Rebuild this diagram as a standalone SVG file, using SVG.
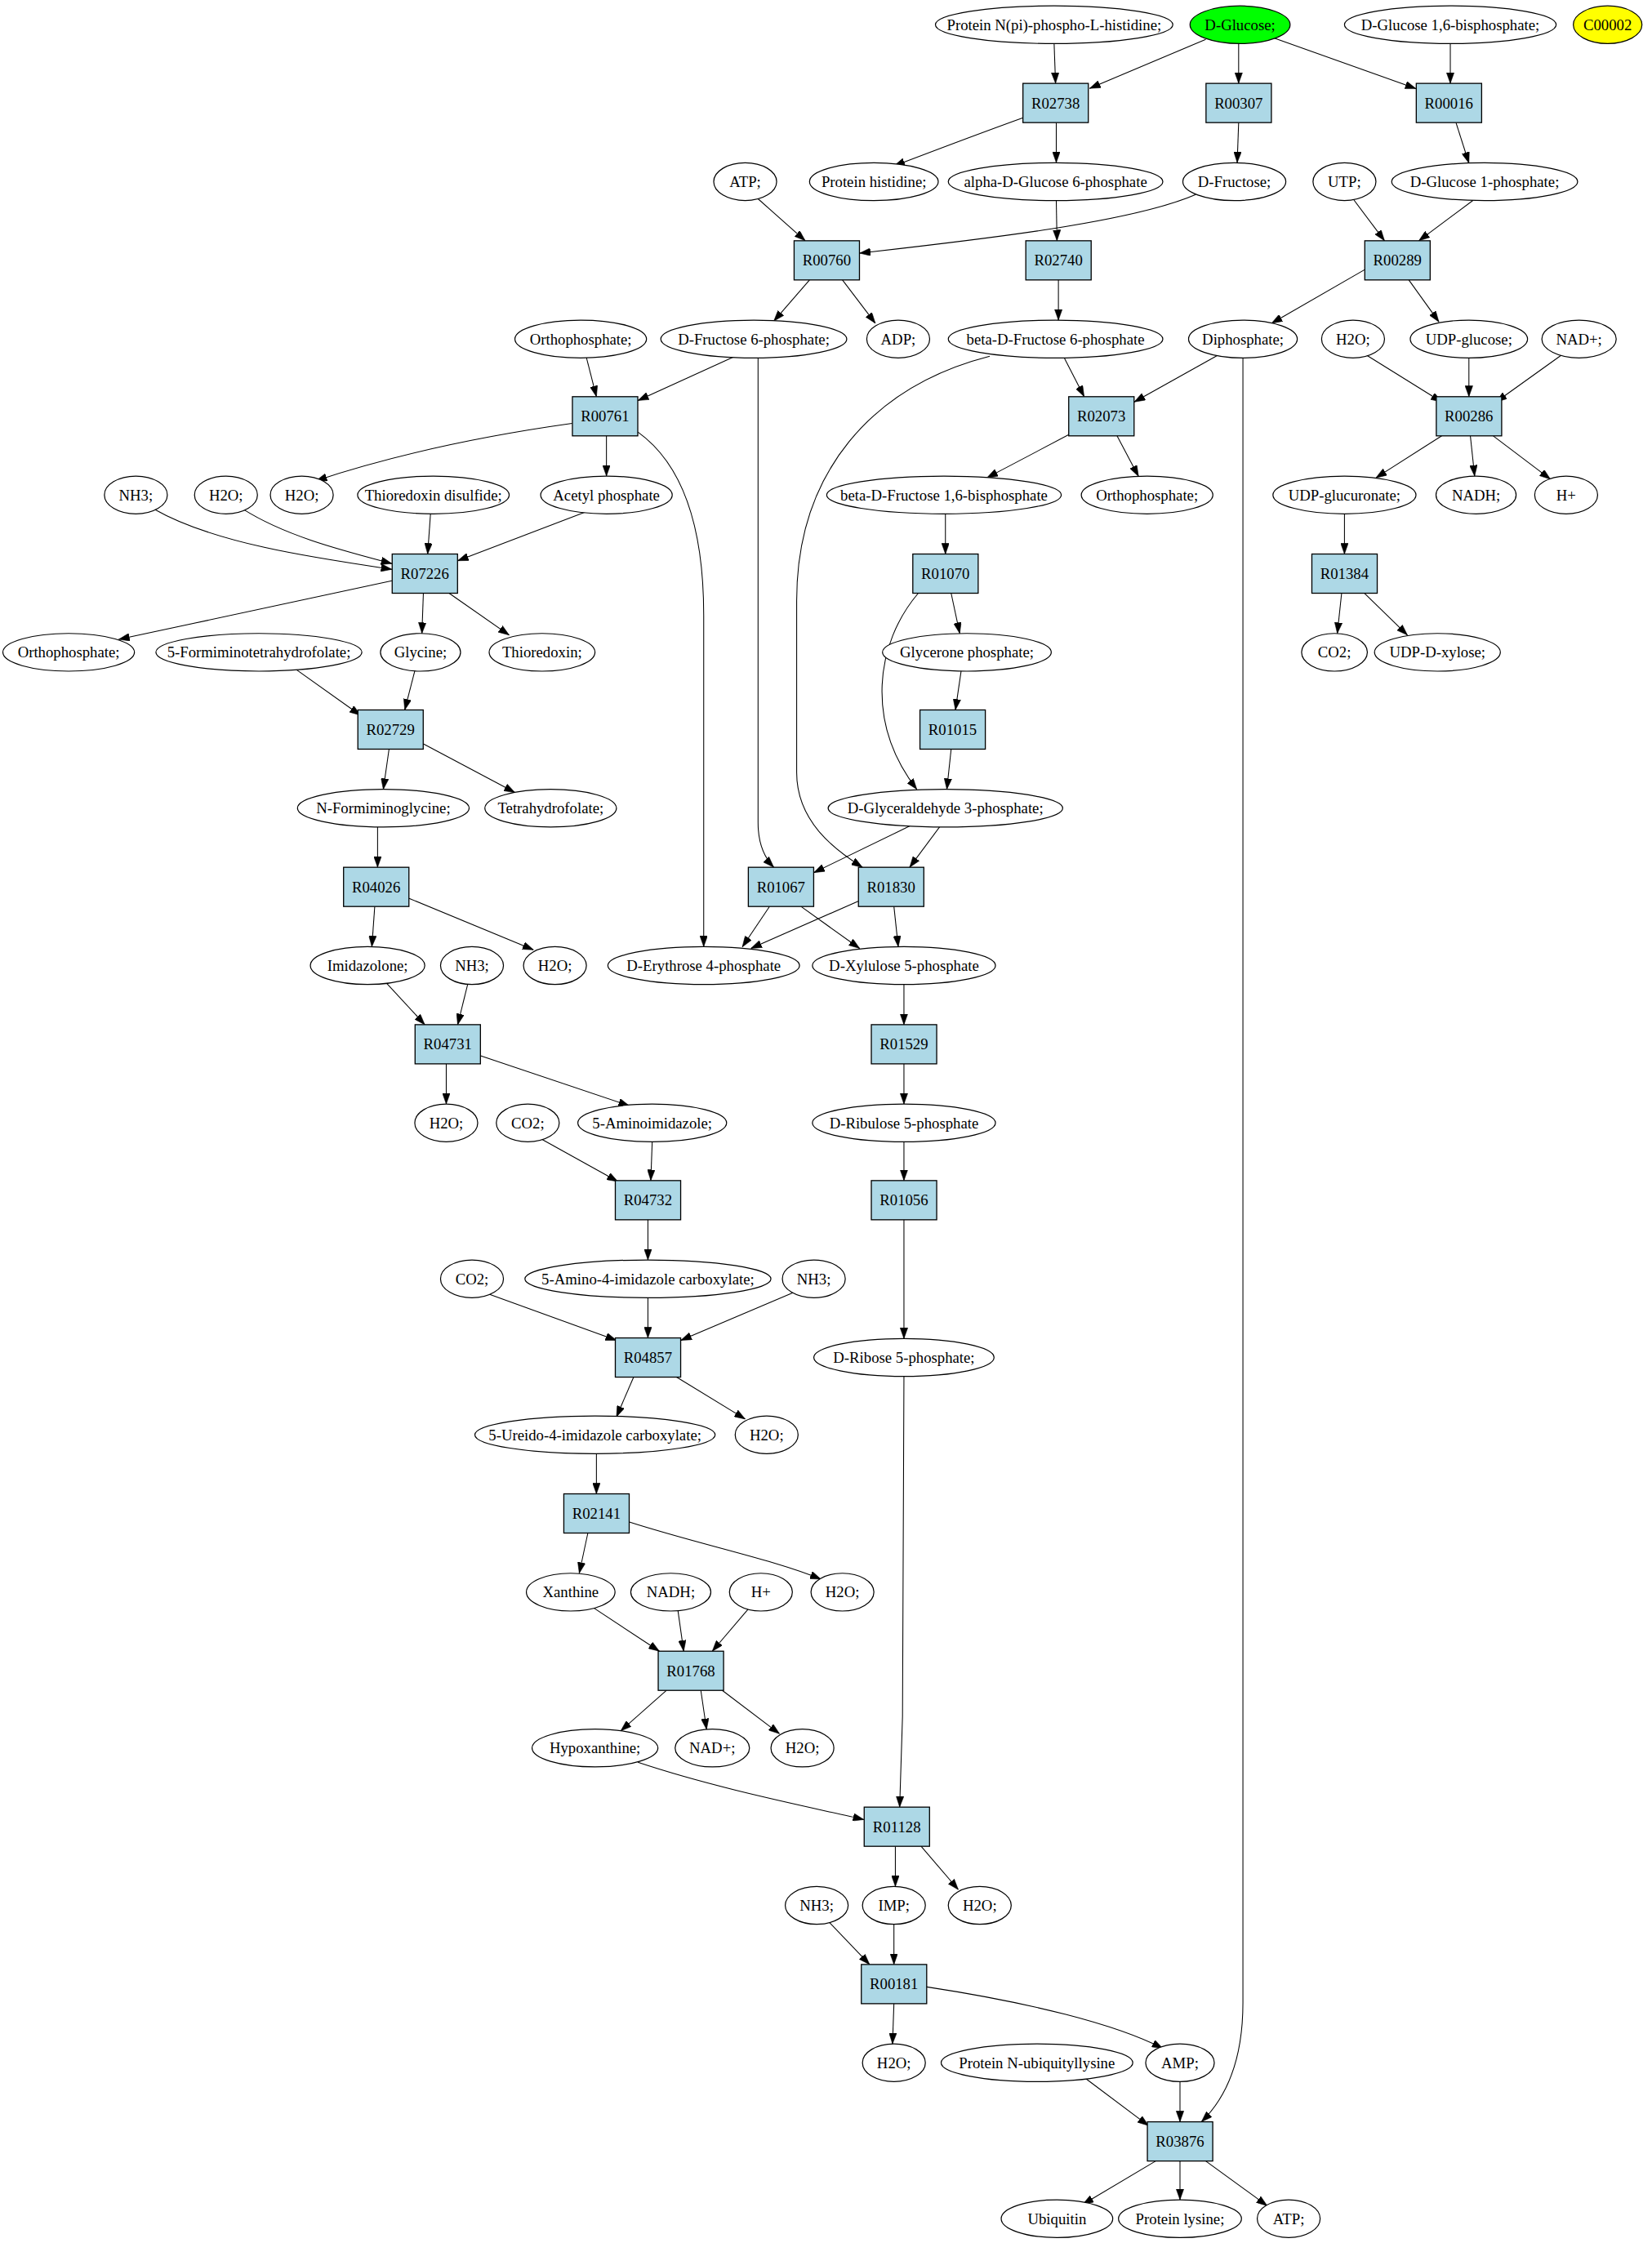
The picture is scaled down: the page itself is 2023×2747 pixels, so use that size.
<svg xmlns="http://www.w3.org/2000/svg" width="2023" height="2747" viewBox="0 0 2023 2747">
<defs>
<style>
.n ellipse{fill:#ffffff;stroke:#000000;stroke-width:0.7}
.r rect{fill:#add8e6;stroke:#000000;stroke-width:0.75}
text{font-family:"Liberation Serif","Times New Roman",serif;font-size:10.7px;text-anchor:middle;fill:#000000}
#edges path{fill:none;stroke:#000000;stroke-width:0.6;marker-end:url(#ah)}
</style>
<marker id="ah" markerUnits="userSpaceOnUse" markerWidth="7.6" markerHeight="5.4" refX="7.6" refY="2.7" orient="auto"><path d="M0,0 L7.6,2.7 L0,5.4 z" fill="#000000" stroke="#000000" stroke-width="0.3"/></marker>
</defs>
<rect x="0" y="0" width="2023" height="2747" fill="#ffffff"/>
<g transform="scale(1.7515,1.7519)">
<g id="edges">
<path d="M737,30.5 L738,58.3"/>
<path d="M843,27.6 L761.8,61.8"/>
<path d="M866,30.2 L866,58.3"/>
<path d="M889,26 L990,62"/>
<path d="M1014,30.2 L1014,58.3"/>
<path d="M716,82 Q680,95 625,116"/>
<path d="M738.5,85.8 L738.5,113.7"/>
<path d="M866,85.8 L865,113.7"/>
<path d="M1018,85.8 L1027,114"/>
<path d="M738.5,140.2 L739,168.3"/>
<path d="M836,136 C790,156 680,168 601,177"/>
<path d="M530,139 L563,168.3"/>
<path d="M946,139 L968,168.3"/>
<path d="M1030,140 L992,168.3"/>
<path d="M566,195.7 L541,224.5"/>
<path d="M589,195.7 L612,226"/>
<path d="M740,195.7 L740,223.8"/>
<path d="M955,188 L889,226"/>
<path d="M985,195.7 L1006,225"/>
<path d="M410,250 L417,277.3"/>
<path d="M514,249 L446,280"/>
<path d="M530,250.2 L530,575 Q530,595 541,606.3"/>
<path d="M744,250 L758,277.3"/>
<path d="M692,249 C610,270 557,330 557,420 L557,540 C557,575 585,595 603,606.3"/>
<path d="M852,248 L793,281"/>
<path d="M869,250 L869,1400 Q869,1455 840,1483.3"/>
<path d="M955,248 L1008,281"/>
<path d="M1027,250 L1027,277.3"/>
<path d="M1092,248 L1046,281"/>
<path d="M400,296 Q300,310 221,336"/>
<path d="M424,304.7 L424,332.8"/>
<path d="M446,302 C478,325 492,370 492,430 L492,661.8"/>
<path d="M747,304 L690,334"/>
<path d="M781,304.7 L796,333"/>
<path d="M1008,304.7 L962,334"/>
<path d="M1028,304.7 L1031,332.8"/>
<path d="M1044,304.7 L1084,335"/>
<path d="M108,356 C150,380 220,390 274,398"/>
<path d="M170,356 C200,375 240,385 274,394"/>
<path d="M301,359.2 L299,387.3"/>
<path d="M409,358 L320,392"/>
<path d="M661,359.2 L661,387.3"/>
<path d="M940,359.2 L940,387.3"/>
<path d="M274,406 L83,447"/>
<path d="M296,414.7 L295,442.8"/>
<path d="M314,414.7 L356,444"/>
<path d="M665,414.7 L671,442.8"/>
<path d="M642,414.7 C612,450 605,505 641,551.8"/>
<path d="M938,414.7 L935,442.8"/>
<path d="M954,414.7 L984,444"/>
<path d="M207,468 L252,500"/>
<path d="M290,469 L283,496.3"/>
<path d="M672,469 L668,496.3"/>
<path d="M272,523.7 L268,551.8"/>
<path d="M296,520 L360,554"/>
<path d="M665,523.7 L662,551.8"/>
<path d="M264,578.2 L264,606.3"/>
<path d="M637,577 L569,610"/>
<path d="M657,578 L636,606.3"/>
<path d="M262,633.7 L260,661.8"/>
<path d="M286,628 L373,664"/>
<path d="M538,633.7 L519,662"/>
<path d="M560,633.7 L601,663"/>
<path d="M600,630 L525,663"/>
<path d="M625,633.7 L628,661.8"/>
<path d="M270,687 L297,716.3"/>
<path d="M327,688 L320,716.3"/>
<path d="M632,688.2 L632,716.3"/>
<path d="M312,743.7 L312,771.8"/>
<path d="M336,738 L440,773"/>
<path d="M632,743.7 L632,771.8"/>
<path d="M378,796 L432,826"/>
<path d="M456,798.2 L455,825.3"/>
<path d="M632,798.2 L632,825.3"/>
<path d="M453,852.7 L453,880.8"/>
<path d="M632,852.7 L632,935.8"/>
<path d="M340,904 L431,937"/>
<path d="M453,907.2 L453,935.3"/>
<path d="M556,903 L476,937"/>
<path d="M632,962.2 L631,1200 L629,1263.3"/>
<path d="M443,962.7 L431,990.5"/>
<path d="M473,962.7 L521,992"/>
<path d="M417,1016.2 L417,1044.3"/>
<path d="M411,1071.7 L405,1099.8"/>
<path d="M440,1064 C490,1080 540,1090 574,1104"/>
<path d="M415,1124 L461,1154.3"/>
<path d="M474,1126 L478,1154.3"/>
<path d="M523,1125 L498,1154.3"/>
<path d="M466,1181.7 L434,1210"/>
<path d="M490,1181.7 L494,1209"/>
<path d="M505,1181.7 L545,1212"/>
<path d="M446,1232 C500,1250 560,1262 604,1272"/>
<path d="M626,1290.7 L626,1318.8"/>
<path d="M644,1290.7 L670,1321"/>
<path d="M580,1344 L608,1373.3"/>
<path d="M625,1345.2 L625,1373.3"/>
<path d="M625,1400.7 L624,1428.8"/>
<path d="M648,1389 C720,1400 780,1415 813,1432"/>
<path d="M759,1453 L803,1486"/>
<path d="M825,1455.2 L825,1483.3"/>
<path d="M808,1510.7 L757,1541"/>
<path d="M825,1510.7 L825,1537.8"/>
<path d="M843,1510.7 L886,1542"/>
</g>
<g id="c_prot_npi" class="n"><ellipse cx="737" cy="17.3" rx="83" ry="13.2"/><text x="737" y="21">Protein N(pi)-phospho-L-histidine;</text></g>
<g id="c_dglucose" class="n"><ellipse cx="867" cy="17.3" rx="35" ry="13.2" style="fill:#00ff00"/><text x="867" y="21">D-Glucose;</text></g>
<g id="c_dg16bp" class="n"><ellipse cx="1014" cy="17.3" rx="74" ry="13.2"/><text x="1014" y="21">D-Glucose 1,6-bisphosphate;</text></g>
<g id="c_C00002" class="n"><ellipse cx="1124" cy="17.3" rx="24" ry="13.2" style="fill:#ffff00"/><text x="1124" y="21">C00002</text></g>
<g id="c_prothis" class="n"><ellipse cx="611" cy="127" rx="45" ry="13.2"/><text x="611" y="130.7">Protein histidine;</text></g>
<g id="c_adg6p" class="n"><ellipse cx="738" cy="127" rx="75" ry="13.2"/><text x="738" y="130.7">alpha-D-Glucose 6-phosphate</text></g>
<g id="c_dfructose" class="n"><ellipse cx="863" cy="127" rx="36" ry="13.2"/><text x="863" y="130.7">D-Fructose;</text></g>
<g id="c_utp" class="n"><ellipse cx="940" cy="127" rx="22" ry="13.2"/><text x="940" y="130.7">UTP;</text></g>
<g id="c_dg1p" class="n"><ellipse cx="1038" cy="127" rx="65" ry="13.2"/><text x="1038" y="130.7">D-Glucose 1-phosphate;</text></g>
<g id="c_atp_1" class="n"><ellipse cx="521" cy="127" rx="22" ry="13.2"/><text x="521" y="130.7">ATP;</text></g>
<g id="c_ortho_1" class="n"><ellipse cx="406" cy="237" rx="46" ry="13.2"/><text x="406" y="240.7">Orthophosphate;</text></g>
<g id="c_df6p" class="n"><ellipse cx="527" cy="237" rx="65" ry="13.2"/><text x="527" y="240.7">D-Fructose 6-phosphate;</text></g>
<g id="c_adp" class="n"><ellipse cx="628" cy="237" rx="22" ry="13.2"/><text x="628" y="240.7">ADP;</text></g>
<g id="c_bdf6p" class="n"><ellipse cx="738" cy="237" rx="75" ry="13.2"/><text x="738" y="240.7">beta-D-Fructose 6-phosphate</text></g>
<g id="c_diphos" class="n"><ellipse cx="869" cy="237" rx="38" ry="13.2"/><text x="869" y="240.7">Diphosphate;</text></g>
<g id="c_h2o_1" class="n"><ellipse cx="946" cy="237" rx="22" ry="13.2"/><text x="946" y="240.7">H2O;</text></g>
<g id="c_udpglc" class="n"><ellipse cx="1027" cy="237" rx="41" ry="13.2"/><text x="1027" y="240.7">UDP-glucose;</text></g>
<g id="c_nadp_1" class="n"><ellipse cx="1104" cy="237" rx="26" ry="13.2"/><text x="1104" y="240.7">NAD+;</text></g>
<g id="c_nh3_1" class="n"><ellipse cx="95" cy="346" rx="22" ry="13.2"/><text x="95" y="349.7">NH3;</text></g>
<g id="c_h2o_2" class="n"><ellipse cx="158" cy="346" rx="22" ry="13.2"/><text x="158" y="349.7">H2O;</text></g>
<g id="c_h2o_3" class="n"><ellipse cx="211" cy="346" rx="22" ry="13.2"/><text x="211" y="349.7">H2O;</text></g>
<g id="c_trxdis" class="n"><ellipse cx="303" cy="346" rx="53" ry="13.2"/><text x="303" y="349.7">Thioredoxin disulfide;</text></g>
<g id="c_acetylp" class="n"><ellipse cx="424" cy="346" rx="46" ry="13.2"/><text x="424" y="349.7">Acetyl phosphate</text></g>
<g id="c_bdf16bp" class="n"><ellipse cx="660" cy="346" rx="82" ry="13.2"/><text x="660" y="349.7">beta-D-Fructose 1,6-bisphosphate</text></g>
<g id="c_ortho_2" class="n"><ellipse cx="802" cy="346" rx="46" ry="13.2"/><text x="802" y="349.7">Orthophosphate;</text></g>
<g id="c_udpgluc" class="n"><ellipse cx="940" cy="346" rx="50" ry="13.2"/><text x="940" y="349.7">UDP-glucuronate;</text></g>
<g id="c_nadh_1" class="n"><ellipse cx="1032" cy="346" rx="28" ry="13.2"/><text x="1032" y="349.7">NADH;</text></g>
<g id="c_hplus_1" class="n"><ellipse cx="1095" cy="346" rx="22" ry="13.2"/><text x="1095" y="349.7">H+</text></g>
<g id="c_ortho_3" class="n"><ellipse cx="48" cy="456" rx="46" ry="13.2"/><text x="48" y="459.7">Orthophosphate;</text></g>
<g id="c_5fthf" class="n"><ellipse cx="181" cy="456" rx="72" ry="13.2"/><text x="181" y="459.7">5-Formiminotetrahydrofolate;</text></g>
<g id="c_glycine" class="n"><ellipse cx="294" cy="456" rx="28" ry="13.2"/><text x="294" y="459.7">Glycine;</text></g>
<g id="c_trx" class="n"><ellipse cx="379" cy="456" rx="37" ry="13.2"/><text x="379" y="459.7">Thioredoxin;</text></g>
<g id="c_glycerone" class="n"><ellipse cx="676" cy="456" rx="59" ry="13.2"/><text x="676" y="459.7">Glycerone phosphate;</text></g>
<g id="c_co2_1" class="n"><ellipse cx="933" cy="456" rx="23" ry="13.2"/><text x="933" y="459.7">CO2;</text></g>
<g id="c_udpxyl" class="n"><ellipse cx="1005" cy="456" rx="44" ry="13.2"/><text x="1005" y="459.7">UDP-D-xylose;</text></g>
<g id="c_nfgly" class="n"><ellipse cx="268" cy="565" rx="60" ry="13.2"/><text x="268" y="568.7">N-Formiminoglycine;</text></g>
<g id="c_thf" class="n"><ellipse cx="385" cy="565" rx="46" ry="13.2"/><text x="385" y="568.7">Tetrahydrofolate;</text></g>
<g id="c_dga3p" class="n"><ellipse cx="661" cy="565" rx="82" ry="13.2"/><text x="661" y="568.7">D-Glyceraldehyde 3-phosphate;</text></g>
<g id="c_imidazolone" class="n"><ellipse cx="257" cy="675" rx="40" ry="13.2"/><text x="257" y="678.7">Imidazolone;</text></g>
<g id="c_nh3_2" class="n"><ellipse cx="330" cy="675" rx="22" ry="13.2"/><text x="330" y="678.7">NH3;</text></g>
<g id="c_h2o_4" class="n"><ellipse cx="388" cy="675" rx="22" ry="13.2"/><text x="388" y="678.7">H2O;</text></g>
<g id="c_der4p" class="n"><ellipse cx="492" cy="675" rx="67" ry="13.2"/><text x="492" y="678.7">D-Erythrose 4-phosphate</text></g>
<g id="c_dxu5p" class="n"><ellipse cx="632" cy="675" rx="64" ry="13.2"/><text x="632" y="678.7">D-Xylulose 5-phosphate</text></g>
<g id="c_h2o_5" class="n"><ellipse cx="312" cy="785" rx="22" ry="13.2"/><text x="312" y="788.7">H2O;</text></g>
<g id="c_co2_2" class="n"><ellipse cx="369" cy="785" rx="22" ry="13.2"/><text x="369" y="788.7">CO2;</text></g>
<g id="c_5ai" class="n"><ellipse cx="456" cy="785" rx="52" ry="13.2"/><text x="456" y="788.7">5-Aminoimidazole;</text></g>
<g id="c_dru5p" class="n"><ellipse cx="632" cy="785" rx="64" ry="13.2"/><text x="632" y="788.7">D-Ribulose 5-phosphate</text></g>
<g id="c_co2_3" class="n"><ellipse cx="330" cy="894" rx="22" ry="13.2"/><text x="330" y="897.7">CO2;</text></g>
<g id="c_5a4ic" class="n"><ellipse cx="453" cy="894" rx="86" ry="13.2"/><text x="453" y="897.7">5-Amino-4-imidazole carboxylate;</text></g>
<g id="c_nh3_3" class="n"><ellipse cx="569" cy="894" rx="22" ry="13.2"/><text x="569" y="897.7">NH3;</text></g>
<g id="c_dr5p" class="n"><ellipse cx="632" cy="949" rx="63" ry="13.2"/><text x="632" y="952.7">D-Ribose 5-phosphate;</text></g>
<g id="c_5u4ic" class="n"><ellipse cx="416" cy="1003" rx="84" ry="13.2"/><text x="416" y="1006.7">5-Ureido-4-imidazole carboxylate;</text></g>
<g id="c_h2o_6" class="n"><ellipse cx="536" cy="1003" rx="22" ry="13.2"/><text x="536" y="1006.7">H2O;</text></g>
<g id="c_xanthine" class="n"><ellipse cx="399" cy="1113" rx="31" ry="13.2"/><text x="399" y="1116.7">Xanthine</text></g>
<g id="c_nadh_2" class="n"><ellipse cx="469" cy="1113" rx="28" ry="13.2"/><text x="469" y="1116.7">NADH;</text></g>
<g id="c_hplus_2" class="n"><ellipse cx="532" cy="1113" rx="22" ry="13.2"/><text x="532" y="1116.7">H+</text></g>
<g id="c_h2o_7" class="n"><ellipse cx="589" cy="1113" rx="22" ry="13.2"/><text x="589" y="1116.7">H2O;</text></g>
<g id="c_hypox" class="n"><ellipse cx="416" cy="1222" rx="44" ry="13.2"/><text x="416" y="1225.7">Hypoxanthine;</text></g>
<g id="c_nadp_2" class="n"><ellipse cx="498" cy="1222" rx="26" ry="13.2"/><text x="498" y="1225.7">NAD+;</text></g>
<g id="c_h2o_8" class="n"><ellipse cx="561" cy="1222" rx="22" ry="13.2"/><text x="561" y="1225.7">H2O;</text></g>
<g id="c_nh3_4" class="n"><ellipse cx="571" cy="1332" rx="22" ry="13.2"/><text x="571" y="1335.7">NH3;</text></g>
<g id="c_imp" class="n"><ellipse cx="625" cy="1332" rx="22" ry="13.2"/><text x="625" y="1335.7">IMP;</text></g>
<g id="c_h2o_9" class="n"><ellipse cx="685" cy="1332" rx="22" ry="13.2"/><text x="685" y="1335.7">H2O;</text></g>
<g id="c_h2o_10" class="n"><ellipse cx="625" cy="1442" rx="22" ry="13.2"/><text x="625" y="1445.7">H2O;</text></g>
<g id="c_protnub" class="n"><ellipse cx="725" cy="1442" rx="67" ry="13.2"/><text x="725" y="1445.7">Protein N-ubiquityllysine</text></g>
<g id="c_amp" class="n"><ellipse cx="825" cy="1442" rx="24" ry="13.2"/><text x="825" y="1445.7">AMP;</text></g>
<g id="c_ubiquitin" class="n"><ellipse cx="739" cy="1551" rx="39" ry="13.2"/><text x="739" y="1554.7">Ubiquitin</text></g>
<g id="c_protlys" class="n"><ellipse cx="825" cy="1551" rx="43" ry="13.2"/><text x="825" y="1554.7">Protein lysine;</text></g>
<g id="c_atp_2" class="n"><ellipse cx="901" cy="1551" rx="22" ry="13.2"/><text x="901" y="1554.7">ATP;</text></g>
<g id="R02738" class="r"><rect x="715.2" y="58.3" width="45.7" height="27.4"/><text x="738" y="75.7">R02738</text></g>
<g id="R00307" class="r"><rect x="843.2" y="58.3" width="45.7" height="27.4"/><text x="866" y="75.7">R00307</text></g>
<g id="R00016" class="r"><rect x="990.2" y="58.3" width="45.7" height="27.4"/><text x="1013" y="75.7">R00016</text></g>
<g id="R00760" class="r"><rect x="555.2" y="168.3" width="45.7" height="27.4"/><text x="578" y="185.7">R00760</text></g>
<g id="R02740" class="r"><rect x="717.2" y="168.3" width="45.7" height="27.4"/><text x="740" y="185.7">R02740</text></g>
<g id="R00289" class="r"><rect x="954.2" y="168.3" width="45.7" height="27.4"/><text x="977" y="185.7">R00289</text></g>
<g id="R00761" class="r"><rect x="400.2" y="277.3" width="45.7" height="27.4"/><text x="423" y="294.7">R00761</text></g>
<g id="R02073" class="r"><rect x="747.2" y="277.3" width="45.7" height="27.4"/><text x="770" y="294.7">R02073</text></g>
<g id="R00286" class="r"><rect x="1004.2" y="277.3" width="45.7" height="27.4"/><text x="1027" y="294.7">R00286</text></g>
<g id="R07226" class="r"><rect x="274.2" y="387.3" width="45.7" height="27.4"/><text x="297" y="404.7">R07226</text></g>
<g id="R01070" class="r"><rect x="638.2" y="387.3" width="45.7" height="27.4"/><text x="661" y="404.7">R01070</text></g>
<g id="R01384" class="r"><rect x="917.2" y="387.3" width="45.7" height="27.4"/><text x="940" y="404.7">R01384</text></g>
<g id="R02729" class="r"><rect x="250.2" y="496.3" width="45.7" height="27.4"/><text x="273" y="513.7">R02729</text></g>
<g id="R01015" class="r"><rect x="643.2" y="496.3" width="45.7" height="27.4"/><text x="666" y="513.7">R01015</text></g>
<g id="R04026" class="r"><rect x="240.2" y="606.3" width="45.7" height="27.4"/><text x="263" y="623.7">R04026</text></g>
<g id="R01067" class="r"><rect x="523.2" y="606.3" width="45.7" height="27.4"/><text x="546" y="623.7">R01067</text></g>
<g id="R01830" class="r"><rect x="600.2" y="606.3" width="45.7" height="27.4"/><text x="623" y="623.7">R01830</text></g>
<g id="R04731" class="r"><rect x="290.2" y="716.3" width="45.7" height="27.4"/><text x="313" y="733.7">R04731</text></g>
<g id="R01529" class="r"><rect x="609.2" y="716.3" width="45.7" height="27.4"/><text x="632" y="733.7">R01529</text></g>
<g id="R04732" class="r"><rect x="430.2" y="825.3" width="45.7" height="27.4"/><text x="453" y="842.7">R04732</text></g>
<g id="R01056" class="r"><rect x="609.2" y="825.3" width="45.7" height="27.4"/><text x="632" y="842.7">R01056</text></g>
<g id="R04857" class="r"><rect x="430.2" y="935.3" width="45.7" height="27.4"/><text x="453" y="952.7">R04857</text></g>
<g id="R02141" class="r"><rect x="394.2" y="1044.3" width="45.7" height="27.4"/><text x="417" y="1061.7">R02141</text></g>
<g id="R01768" class="r"><rect x="460.2" y="1154.3" width="45.7" height="27.4"/><text x="483" y="1171.7">R01768</text></g>
<g id="R01128" class="r"><rect x="604.2" y="1263.3" width="45.7" height="27.4"/><text x="627" y="1280.7">R01128</text></g>
<g id="R00181" class="r"><rect x="602.2" y="1373.3" width="45.7" height="27.4"/><text x="625" y="1390.7">R00181</text></g>
<g id="R03876" class="r"><rect x="802.2" y="1483.3" width="45.7" height="27.4"/><text x="825" y="1500.7">R03876</text></g>
</g>
</svg>
